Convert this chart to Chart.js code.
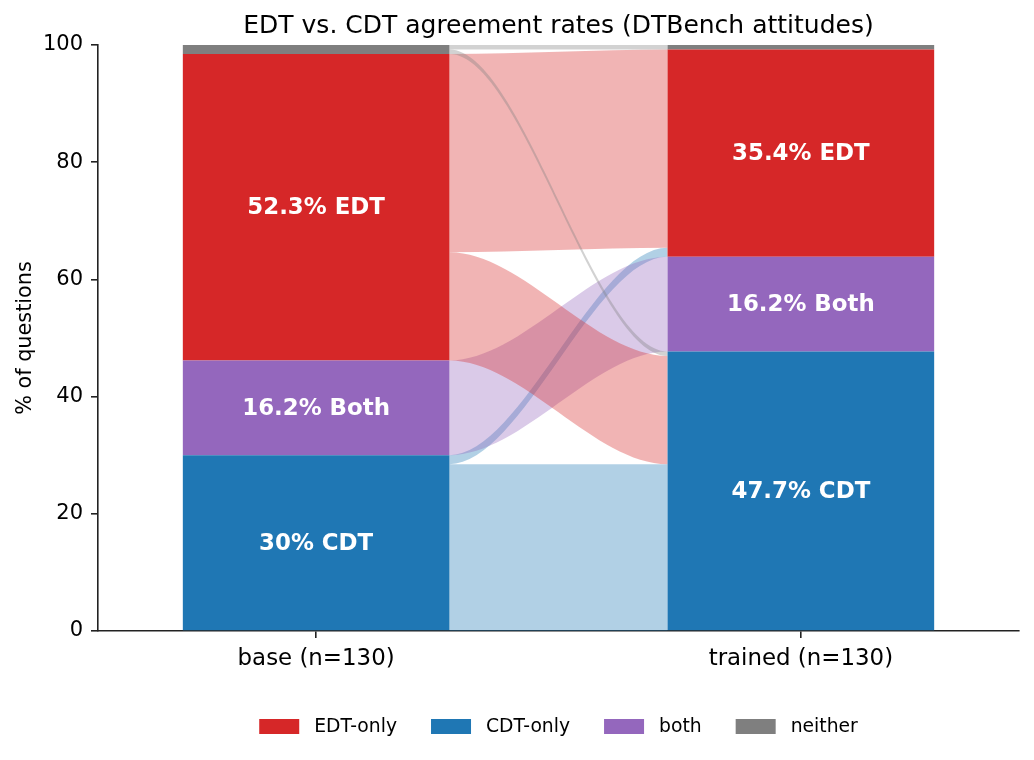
<!DOCTYPE html>
<html>
<head>
<meta charset="utf-8">
<script src="https://cdn.jsdelivr.net/npm/chart.js@4.4.1/dist/chart.umd.min.js"></script>
<style>
  html, body { margin: 0; padding: 0; background: #fff; }
  #wrap { width: 1034px; height: 760px; position: relative; }
</style>
</head>
<body>
<div id="wrap"><canvas id="chart"></canvas></div>
<script>
const models = ["base", "trained"];
const nQuestions = [130, 130];
const outcomes = ["CDT", "both", "EDT", "neither"]; // stack order, bottom to top
const outcomeLegend = ["CDT-only", "both", "EDT-only", "neither"];
const outcomeShort = ["CDT", "Both", "EDT", ""];
const outcomeColors = ["#1f77b4", "#9467bd", "#d62728", "#7f7f7f"];
const legendOrder = ["EDT", "CDT", "both", "neither"];

// base answer -> trained answer, number of questions
const flowFrom = ["CDT", "CDT", "both", "EDT", "EDT", "neither", "neither"];
const flowTo = ["CDT", "EDT", "both", "CDT", "EDT", "CDT", "neither"];
const flowCount = [37, 2, 21, 24, 44, 1, 1];

const yTicks = [0, 20, 40, 60, 80, 100];

const FONT = "DejaVu Sans";
const BAR_W = 0.55;

const sumWhere = (keys, o) =>
  keys.reduce((s, k, i) => s + (k === o ? flowCount[i] : 0), 0);
const baseCounts = outcomes.map(o => sumWhere(flowFrom, o));
const trainedCounts = outcomes.map(o => sumWhere(flowTo, o));
const counts = [baseCounts, trainedCounts];
const pct = (c, m) => c / nQuestions[m] * 100;
const fmt = v => String(Math.round(v * 10) / 10);

function rgba(hex, a) {
  const n = parseInt(hex.slice(1), 16);
  return `rgba(${n >> 16}, ${(n >> 8) & 255}, ${n & 255}, ${a})`;
}

// smoothstep-shaped band between two bars
function ribbon(ctx, x0, x1, a0, b0, a1, b1) {
  const c0 = x0 + (x1 - x0) / 3, c1 = x0 + 2 * (x1 - x0) / 3;
  ctx.beginPath();
  ctx.moveTo(x0, a0);
  ctx.bezierCurveTo(c0, a0, c1, a1, x1, a1);
  ctx.lineTo(x1, b1);
  ctx.bezierCurveTo(c1, b1, c0, b0, x0, b0);
  ctx.closePath();
  ctx.fill();
}

const extras = {
  id: "extras",
  beforeDatasetsDraw(chart) {
    const { ctx, scales: { x, y } } = chart;
    const x0 = x.getPixelForValue(BAR_W / 2);
    const x1 = x.getPixelForValue(1 - BAR_W / 2);
    // where each outcome band starts in each bar
    const srcOff = {}, tgtOff = {};
    let s = 0, t = 0;
    outcomes.forEach((o, k) => {
      srcOff[o] = s; tgtOff[o] = t;
      s += pct(baseCounts[k], 0);
      t += pct(trainedCounts[k], 1);
    });
    ctx.save();
    outcomes.forEach((src, k) => {
      outcomes.forEach(tgt => {
        let c = 0;
        flowCount.forEach((n, i) => {
          if (flowFrom[i] === src && flowTo[i] === tgt) c += n;
        });
        if (!c) return;
        const h0 = pct(c, 0), h1 = pct(c, 1);
        ctx.fillStyle = rgba(outcomeColors[k], 0.35);
        ribbon(ctx, x0, x1,
          y.getPixelForValue(srcOff[src] + h0), y.getPixelForValue(srcOff[src]),
          y.getPixelForValue(tgtOff[tgt] + h1), y.getPixelForValue(tgtOff[tgt]));
        srcOff[src] += h0;
        tgtOff[tgt] += h1;
      });
    });
    ctx.restore();
  },
  afterDatasetsDraw(chart) {
    const { ctx, scales: { x, y } } = chart;
    ctx.save();
    ctx.fillStyle = "#fff";
    ctx.font = `bold 22.9px "${FONT}"`;
    ctx.textAlign = "center";
    ctx.textBaseline = "middle";
    models.forEach((m, mi) => {
      let acc = 0;
      outcomes.forEach((o, k) => {
        const v = pct(counts[mi][k], mi);
        if (v >= 5 && outcomeShort[k]) {
          ctx.fillText(`${fmt(v)}% ${outcomeShort[k]}`,
            x.getPixelForValue(mi), y.getPixelForValue(acc + v / 2) + 1);
        }
        acc += v;
      });
    });
    ctx.restore();
  },
  afterDraw(chart) {
    const { ctx, chartArea: ca } = chart;
    const cx = (ca.left + ca.right) / 2;
    ctx.save();
    ctx.fillStyle = "#000";
    // title
    ctx.font = `25px "${FONT}"`;
    ctx.textAlign = "center";
    ctx.textBaseline = "alphabetic";
    ctx.fillText("EDT vs. CDT agreement rates (DTBench attitudes)", cx, 32.5);
    // y axis title
    ctx.save();
    ctx.translate(31, (ca.top + ca.bottom) / 2);
    ctx.rotate(-Math.PI / 2);
    ctx.font = `20.8px "${FONT}"`;
    ctx.fillText("% of questions", 0, 0);
    ctx.restore();
    // legend
    ctx.font = `18.75px "${FONT}"`;
    ctx.textAlign = "left";
    ctx.textBaseline = "middle";
    const boxW = 40, boxH = 15, pad = 15, gap = 34, ly = 726.5;
    const items = legendOrder.map(o => {
      const k = outcomes.indexOf(o);
      return { text: outcomeLegend[k], color: outcomeColors[k], w: ctx.measureText(outcomeLegend[k]).width };
    });
    const total = items.reduce((s, it) => s + boxW + pad + it.w, 0) + gap * (items.length - 1);
    let lx = cx - total / 2;
    items.forEach(it => {
      ctx.fillStyle = it.color;
      ctx.fillRect(lx, ly - boxH / 2, boxW, boxH);
      ctx.fillStyle = "#000";
      ctx.fillText(it.text, lx + boxW + pad, ly + 1);
      lx += boxW + pad + it.w + gap;
    });
    ctx.restore();
  }
};

Chart.defaults.font.family = FONT;
Chart.defaults.color = "#000";

new Chart(document.getElementById("chart"), {
  type: "bar",
  data: {
    datasets: outcomes.map((o, k) => ({
      label: outcomeLegend[k],
      data: models.map((m, mi) => ({ x: mi, y: pct(counts[mi][k], mi) })),
      backgroundColor: outcomeColors[k],
      borderWidth: 0,
      stack: "all",
      barPercentage: BAR_W,
      categoryPercentage: 1,
    })),
  },
  options: {
    responsive: true,
    maintainAspectRatio: false,
    animation: false,
    layout: { padding: { top: 45, right: 15, left: 0, bottom: 0 } },
    plugins: { legend: { display: false }, title: { display: false }, tooltip: { enabled: false } },
    scales: {
      x: {
        type: "linear",
        offset: false,
        min: -0.45,
        max: 1.45,
        afterBuildTicks: axis => { axis.ticks = models.map((m, i) => ({ value: i })); },
        afterFit: scale => { scale.height = 129; },
        ticks: {
          font: { size: 22.9 },
          padding: 7,
          maxRotation: 0,
          callback: v => `${models[v]} (n=${nQuestions[v]})`,
        },
        grid: { display: true, offset: false, drawOnChartArea: false, drawTicks: true, tickLength: 7, color: "#222", lineWidth: 1.6 },
        border: { display: true, color: "#222", width: 1.6 },
      },
      y: {
        stacked: true,
        min: 0,
        max: 100,
        afterBuildTicks: axis => { axis.ticks = yTicks.map(v => ({ value: v })); },
        afterFit: scale => { scale.width = 98; },
        ticks: { font: { size: 21 }, padding: 8 },
        grid: { display: true, drawOnChartArea: false, drawTicks: true, tickLength: 7, color: "#222", lineWidth: 1.6 },
        border: { display: true, color: "#222", width: 1.6 },
      },
    },
  },
  plugins: [extras],
});
</script>
</body>
</html>
